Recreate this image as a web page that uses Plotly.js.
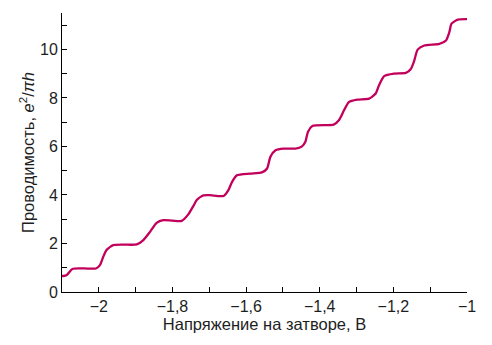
<!DOCTYPE html>
<html>
<head>
<meta charset="utf-8">
<script src="https://cdn.plot.ly/plotly-3.0.1.min.js"></script>
<style>html,body{margin:0;padding:0;background:#fff;}#chart{width:492px;height:345px;}</style>
</head>
<body>
<div id="chart"></div>
<script>
// Gate voltage, V
var voltage = [-2.1, -2.097, -2.087, -2.072, -2.04, -2.008, -1.997, -1.988, -1.979, -1.961, -1.93, -1.897, -1.879, -1.861, -1.843, -1.825, -1.8, -1.775, -1.757, -1.743, -1.734, -1.716, -1.698, -1.661, -1.648, -1.638, -1.625, -1.589, -1.557, -1.543, -1.534, -1.520, -1.498, -1.466, -1.448, -1.439, -1.432, -1.420, -1.362, -1.348, -1.334, -1.321, -1.298, -1.266, -1.248, -1.239, -1.225, -1.198, -1.166, -1.153, -1.144, -1.134, -1.116, -1.075, -1.057, -1.048, -1.042, -1.025, -1.0];
// Conductance, e^2/πh
var conductance = [0.66, 0.66, 0.70, 0.95, 0.97, 0.97, 1.11, 1.45, 1.73, 1.93, 1.95, 1.96, 2.14, 2.48, 2.85, 2.96, 2.94, 2.93, 3.20, 3.55, 3.79, 3.98, 3.99, 3.96, 4.20, 4.54, 4.81, 4.88, 4.93, 5.09, 5.57, 5.84, 5.91, 5.91, 6.0, 6.19, 6.6, 6.84, 6.9, 7.08, 7.49, 7.83, 7.93, 7.97, 8.18, 8.52, 8.9, 9.0, 9.03, 9.18, 9.50, 9.99, 10.16, 10.23, 10.37, 10.71, 11.06, 11.23, 11.25];

var xTickVals = [-2, -1.8, -1.6, -1.4, -1.2, -1];
var yTickVals = [0, 2, 4, 6, 8, 10];

var tickFont = {family: 'Liberation Sans, Arial, sans-serif', size: 16, color: '#1e1e1e'};
var titleFont = {family: 'Liberation Sans, Arial, sans-serif', size: 16.5, color: '#1e1e1e'};

var trace = {
  x: voltage, y: conductance, type: 'scatter', mode: 'lines',
  line: {color: '#c2005c', width: 2.3, shape: 'spline', smoothing: 0.6},
  hoverinfo: 'skip'
};

var layout = {
  width: 492, height: 345,
  margin: {l: 62, r: 25, t: 13, b: 53},
  paper_bgcolor: '#fff', plot_bgcolor: '#fff',
  separators: ', ',
  showlegend: false,
  font: tickFont,
  xaxis: {
    range: [-2.1, -1], tickvals: xTickVals, ticks: 'inside', ticklen: 5, tickcolor: '#000',
    showline: true, linecolor: '#000', linewidth: 1, showgrid: false, zeroline: false,
    tickfont: tickFont, mirror: false,
    minor: {dtick: 0.1, tick0: -2, ticks: 'inside', ticklen: 5, tickcolor: '#000', showgrid: false},
    title: {text: 'Напряжение на затворе, В', font: titleFont, standoff: 3}
  },
  yaxis: {
    range: [0, 11.5], tickvals: yTickVals, ticks: 'inside', ticklen: 5, tickcolor: '#000',
    showline: true, linecolor: '#000', linewidth: 1, showgrid: false, zeroline: false,
    tickfont: tickFont,
    minor: {dtick: 1, tick0: 0, ticks: 'inside', ticklen: 5, tickcolor: '#000', showgrid: false},
    title: {text: 'Проводимость, <i>e</i><sup>2</sup>/<i>πh</i>', font: titleFont, standoff: 1}
  }
};

Plotly.newPlot('chart', [trace], layout, {displayModeBar: false, staticPlot: true});
</script>
</body>
</html>
